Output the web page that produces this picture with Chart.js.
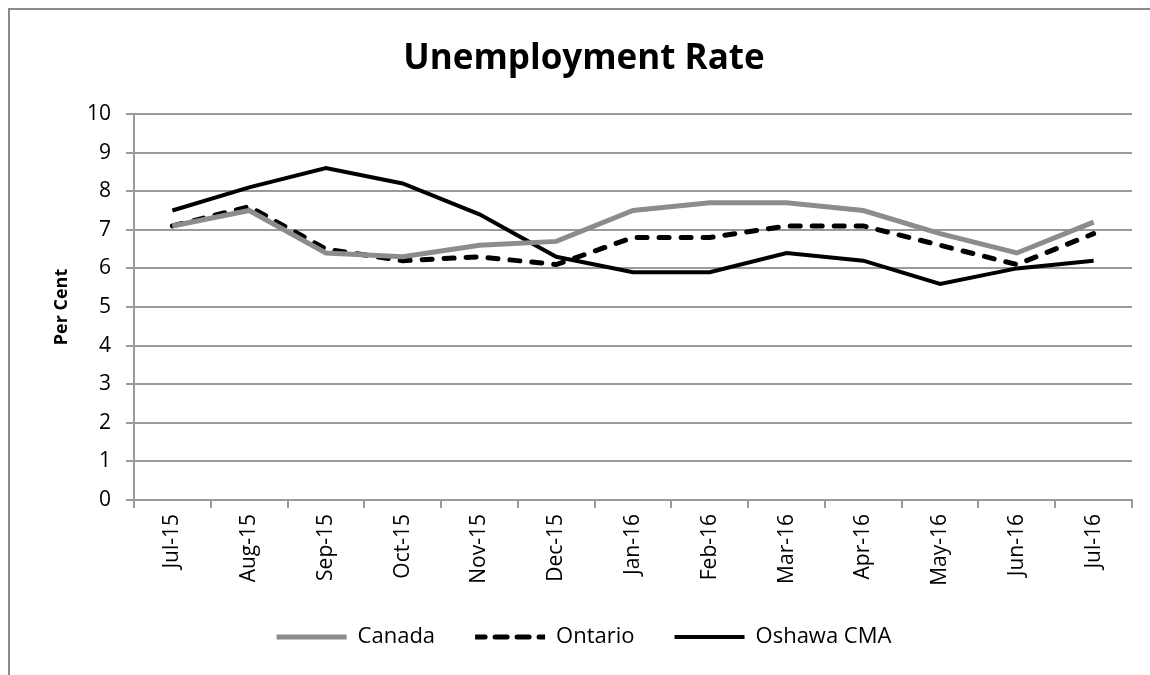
<!DOCTYPE html>
<html>
<head>
<meta charset="utf-8">
<script src="https://cdn.jsdelivr.net/npm/chart.js"></script>
<style>
  html, body { margin: 0; padding: 0; background: #fff; }
  #wrap { width: 1150px; height: 675px; position: relative; }
</style>
</head>
<body>
<div id="wrap"><canvas id="line-chart"></canvas></div>
<script>
// categories and values
var months = ['Jul-15', 'Aug-15', 'Sep-15', 'Oct-15', 'Nov-15', 'Dec-15', 'Jan-16', 'Feb-16', 'Mar-16', 'Apr-16', 'May-16', 'Jun-16', 'Jul-16'];
var canada = [7.1, 7.5, 6.4, 6.3, 6.6, 6.7, 7.5, 7.7, 7.7, 7.5, 6.9, 6.4, 7.2];
var ontario = [7.1, 7.6, 6.5, 6.2, 6.3, 6.1, 6.8, 6.8, 7.1, 7.1, 6.6, 6.1, 6.9];
var oshawa = [7.5, 8.1, 8.6, 8.2, 7.4, 6.3, 5.9, 5.9, 6.4, 6.2, 5.6, 6.0, 6.2];
var yTicks = [0, 1, 2, 3, 4, 5, 6, 7, 8, 9, 10];

var FONT = '"Open Sans", "Noto Sans", sans-serif';
var GRID = '#9a9a9a';

// outer chart frame, like the spreadsheet border
var framePlugin = {
    id: 'frame',
    beforeDraw: function (chart) {
        var ctx = chart.ctx;
        ctx.save();
        ctx.fillStyle = '#fff';
        ctx.fillRect(0, 0, chart.width, chart.height);
        ctx.strokeStyle = '#8a8a8a';
        ctx.lineWidth = 2;
        ctx.strokeRect(9, 9, chart.width + 20, chart.height + 20);
        ctx.restore();
    }
};

var lineChartData = {
    labels: months,
    datasets: [
        {
            label: 'Canada',
            data: canada,
            borderColor: '#8c8c8c',
            backgroundColor: '#8c8c8c',
            borderWidth: 5,
            pointRadius: 0,
            tension: 0
        },
        {
            label: 'Ontario',
            data: ontario,
            borderColor: '#000',
            backgroundColor: '#000',
            borderWidth: 5,
            borderDash: [10, 12],
            borderCapStyle: 'round',
            pointRadius: 0,
            tension: 0
        },
        {
            label: 'Oshawa CMA',
            data: oshawa,
            borderColor: '#000',
            backgroundColor: '#000',
            borderWidth: 4,
            pointRadius: 0,
            tension: 0
        }
    ]
};

var lineChartOptions = {
    responsive: true,
    maintainAspectRatio: false,
    animation: false,
    layout: { padding: { left: 36, right: 18, top: 0, bottom: 17 } },
    plugins: {
        title: {
            display: true,
            text: 'Unemployment Rate',
            color: '#000',
            font: { family: FONT, size: 35, weight: 'bold' },
            padding: { top: 38, bottom: 34 }
        },
        legend: {
            display: true,
            position: 'bottom',
            labels: {
                color: '#000',
                font: { family: FONT, size: 22 },
                boxWidth: 70,
                boxHeight: 0,
                padding: 40
            }
        },
        tooltip: { enabled: false }
    },
    scales: {
        x: {
            type: 'category',
            offset: true,
            grid: {
                offset: true,
                drawOnChartArea: false,
                drawTicks: true,
                tickLength: 8,
                color: GRID,
                lineWidth: 2
            },
            border: { color: GRID, width: 2 },
            ticks: {
                color: '#000',
                font: { family: FONT, size: 21 },
                minRotation: 90,
                maxRotation: 90,
                padding: 6,
                autoSkip: false
            },
            afterFit: function (scale) { scale.height = 86; }
        },
        y: {
            min: 0,
            max: 10,
            afterBuildTicks: function (scale) {
                scale.ticks = yTicks.map(function (v) { return { value: v }; });
            },
            grid: { color: GRID, lineWidth: 2, tickLength: 8 },
            border: { color: GRID, width: 2 },
            ticks: {
                color: '#000',
                font: { family: FONT, size: 21 },
                padding: 15
            },
            title: {
                display: true,
                text: 'Per Cent',
                color: '#000',
                font: { family: FONT, size: 18, weight: 'bold' },
                padding: { top: 15, bottom: 0 }
            },
            afterFit: function (scale) { scale.width = 98; }
        }
    }
};

var lineChart = new Chart(document.getElementById('line-chart'), {
    type: 'line',
    data: lineChartData,
    options: lineChartOptions,
    plugins: [framePlugin]
});
</script>
</body>
</html>
